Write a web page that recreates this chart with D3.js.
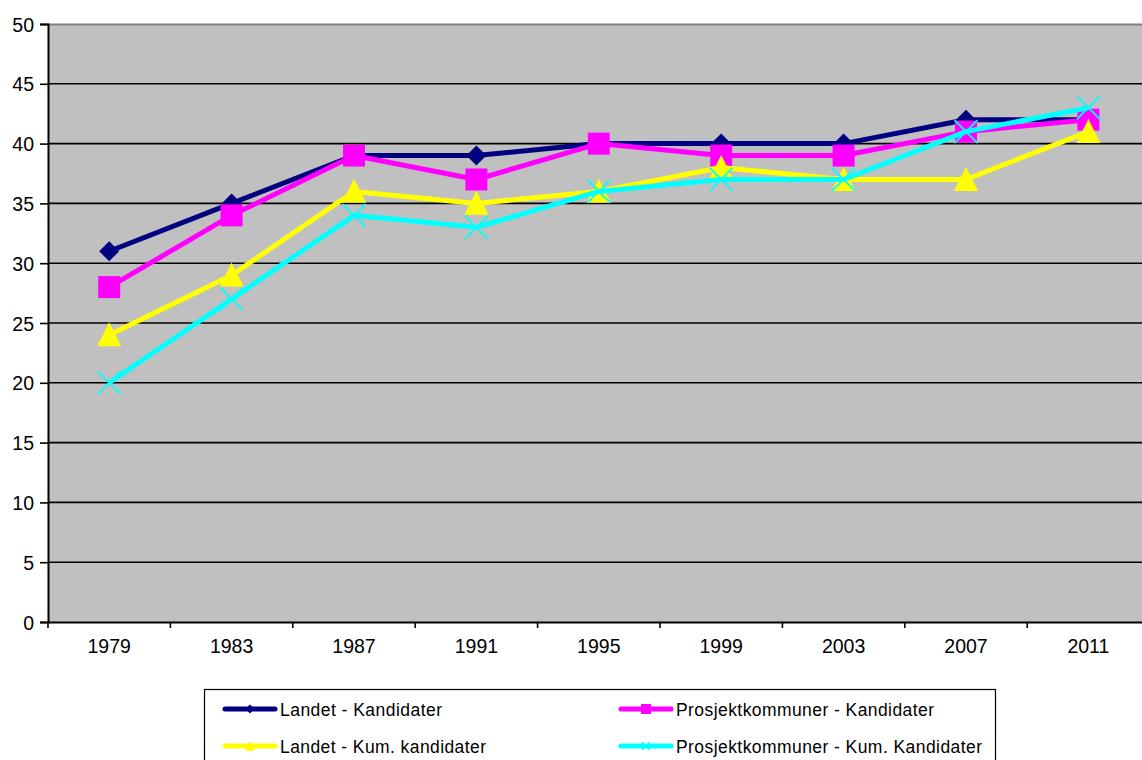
<!DOCTYPE html>
<html><head><meta charset="utf-8">
<script src="https://cdn.jsdelivr.net/npm/d3@7"></script>
<style>body{margin:0;background:#fff;overflow:hidden}</style>
</head><body>
<script>
const years = ["1979","1983","1987","1991","1995","1999","2003","2007","2011"];
const landetKand = [31,35,39,39,40,40,40,42,42];
const prosjektKand = [28,34,39,37,40,39,39,41,42];
const landetKum = [24,29,36,35,36,38,37,37,41];
const prosjektKum = [20,27,34,33,36,37,37,41,43];
const yTicks = [0,5,10,15,20,25,30,35,40,45,50];

const series = [
  {name:"Landet - Kandidater", values:landetKand, color:"#000080", marker:"diamond"},
  {name:"Prosjektkommuner - Kandidater", values:prosjektKand, color:"#FF00FF", marker:"square"},
  {name:"Landet - Kum. kandidater", values:landetKum, color:"#FFFF00", marker:"triangle"},
  {name:"Prosjektkommuner - Kum. Kandidater", values:prosjektKum, color:"#00FFFF", marker:"x"}
];

const W=1142,H=760;
const L=48,T=24,B=622,PW=1101.6;
const FONT="'Liberation Sans', Arial, sans-serif";
const svg=d3.select("body").append("svg").attr("width",W).attr("height",H)
  .style("font-family",FONT);

const x=d3.scaleBand().domain(years).range([L,L+PW]);
const y=d3.scaleLinear().domain([0,50]).range([B,T]);

svg.append("rect").attr("x",L).attr("y",T).attr("width",PW).attr("height",B-T).attr("fill","#C0C0C0");
svg.append("line").attr("x1",L).attr("x2",L+PW).attr("y1",T+0.5).attr("y2",T+0.5).attr("stroke","#808080").attr("stroke-width",2);

// gridlines
svg.append("g").selectAll("line").data(yTicks.filter(d=>d>0&&d<50)).join("line")
  .attr("x1",L).attr("x2",L+PW).attr("y1",d=>y(d)).attr("y2",d=>y(d))
  .attr("stroke","#000").attr("stroke-width",1.6);

// y axis
const ya=svg.append("g").attr("transform",`translate(${L},0)`)
  .call(d3.axisLeft(y).tickValues(yTicks).tickSize(8).tickPadding(6));
ya.attr("font-size",null).attr("font-family",null);
ya.select(".domain").attr("stroke","#000").attr("stroke-width",2);
ya.selectAll(".tick line").attr("stroke","#000").attr("stroke-width",1.6);
ya.selectAll("text").style("font-size","19.5px").attr("fill","#000").style("font-family",FONT).attr("dy","0.36em");

// x axis
const xa=svg.append("g").attr("transform",`translate(0,${B})`)
  .call(d3.axisBottom(x).tickSize(0).tickPadding(17));
xa.attr("font-size",null).attr("font-family",null);
xa.select(".domain").attr("stroke","#000").attr("stroke-width",2);
xa.selectAll("text").style("font-size","19.5px").attr("fill","#000").style("font-family",FONT);
svg.append("g").selectAll("line").data(d3.range(years.length+1)).join("line")
  .attr("x1",i=>L+i*x.step()).attr("x2",i=>L+i*x.step()).attr("y1",B).attr("y2",B+6)
  .attr("stroke","#000").attr("stroke-width",1.6);

function drawMarker(g,type,color,cx,cy,s,sw){
  if(type==="diamond"){
    g.append("path").attr("d",`M${cx},${cy-s}L${cx+s},${cy}L${cx},${cy+s}L${cx-s},${cy}Z`).attr("fill",color);
  } else if(type==="square"){
    g.append("rect").attr("x",cx-s).attr("y",cy-s).attr("width",2*s).attr("height",2*s).attr("fill",color);
  } else if(type==="triangle"){
    g.append("path").attr("d",`M${cx},${cy-s*1.05}L${cx+s},${cy+s*0.95}L${cx-s},${cy+s*0.95}Z`).attr("fill",color);
  } else {
    g.append("path").attr("d",`M${cx-s},${cy-s}L${cx+s},${cy+s}M${cx+s},${cy-s}L${cx-s},${cy+s}`)
      .attr("stroke",color).attr("stroke-width",sw||1.8).attr("fill","none");
  }
}
const msize={diamond:10,square:11,triangle:12,x:11.5};

const line=d3.line().x((d,i)=>x(years[i])+x.bandwidth()/2).y(d=>y(d));
series.forEach(s=>{
  const g=svg.append("g");
  g.append("path").datum(s.values).attr("d",line).attr("fill","none")
    .attr("stroke",s.color).attr("stroke-width",5).attr("stroke-linejoin","round");
  s.values.forEach((v,i)=>drawMarker(g,s.marker,s.color,x(years[i])+x.bandwidth()/2,y(v),msize[s.marker]));
});

// legend
const lg=svg.append("g");
lg.append("rect").attr("x",204.5).attr("y",689.5).attr("width",791).attr("height",90)
  .attr("fill","#fff").attr("stroke","#000").attr("stroke-width",1.2);
const pos=[[223,709],[619,709],[223,746],[619,746]];
const textW=[162,258,206,306];
const lsize={diamond:4.5,square:5,triangle:5,x:4};
series.forEach((s,i)=>{
  const [lx,ly]=pos[i];
  lg.append("line").attr("x1",lx+2).attr("x2",lx+52).attr("y1",ly).attr("y2",ly)
    .attr("stroke",s.color).attr("stroke-width",5).attr("stroke-linecap","round");
  drawMarker(lg,s.marker,s.color,lx+27,ly,lsize[s.marker],1.5);
  lg.append("text").attr("x",lx+57).attr("y",ly+7).style("font-size","17.5px").attr("fill","#000")
    .attr("textLength",textW[i]).attr("lengthAdjust","spacing").text(s.name);
});
</script>
</body></html>
